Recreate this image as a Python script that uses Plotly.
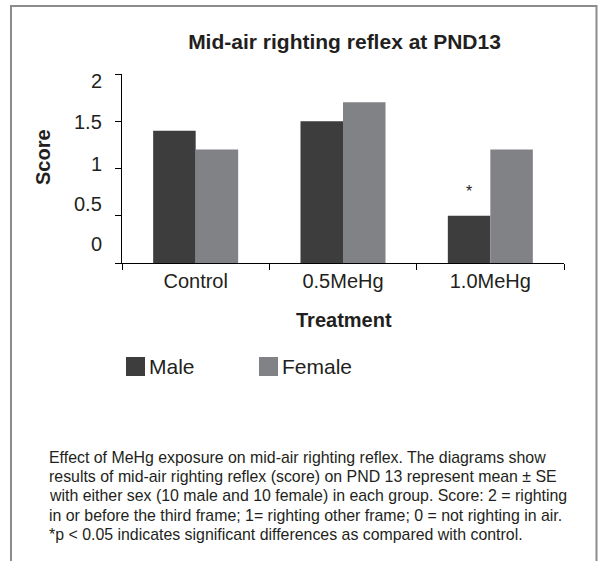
import plotly.graph_objects as go

# ---------------- data ----------------
categories = ["Control", "0.5MeHg", "1.0MeHg"]
male_scores = [1.4, 1.5, 0.5]
female_scores = [1.2, 1.7, 1.2]
significance_male = ["", "", "*"]
series_names = ["Male", "Female"]
y_tick_values = [0, 0.5, 1, 1.5, 2]
y_tick_labels = ["0", "0.5", "1", "1.5", "2"]

title_text = "Mid-air righting reflex at PND13"
x_title = "Treatment"
y_title = "Score"
caption_lines = [
    "Effect of MeHg exposure on mid-air righting reflex. The diagrams show",
    "results of mid-air righting reflex (score) on PND 13 represent mean ± SE",
    "with either sex (10 male and 10 female) in each group. Score: 2 = righting",
    "in or before the third frame; 1= righting other frame; 0 = not righting in air.",
    "*p < 0.05 indicates significant differences as compared with control.",
]

# ---------------- style ----------------
W, H = 598, 561
PL, PR, PT, PB = 122, 564, 74, 263          # plot area in pixels
MALE_COLOR = "#3d3d3d"
FEMALE_COLOR = "#818285"
TEXT_COLOR = "#231f20"
BORDER_COLOR = "#8c8c8c"
FONT = "Liberation Sans, Arial, Helvetica, sans-serif"
BARGAP = 0.423

# y pixel centres at which the reference prints its y tick labels
y_label_px = [244, 204, 164, 121.7, 80.7]
caption_px_y = [457.7, 477, 496, 515, 534]


def px_x(px):
    return (px - PL) / (PR - PL)


def px_y(py):
    return (PB - py) / (PB - PT)


fig = go.Figure()
fig.add_trace(go.Bar(x=categories, y=male_scores, name=series_names[0],
                     marker=dict(color=MALE_COLOR, line=dict(width=0)),
                     showlegend=False))
fig.add_trace(go.Bar(x=categories, y=female_scores, name=series_names[1],
                     marker=dict(color=FEMALE_COLOR, line=dict(width=0)),
                     showlegend=False))

annotations = []

# y tick labels (placed as printed in the reference)
for lab, py in zip(y_tick_labels, y_label_px):
    annotations.append(dict(text=lab, xref="paper", yref="paper",
                            x=px_x(104), y=px_y(py), xanchor="right",
                            yanchor="middle", showarrow=False,
                            font=dict(size=20, color=TEXT_COLOR, family=FONT)))

# significance marks above male bars
cat_w = (PR - PL) / len(categories)
male_offset = -(1 - BARGAP) * cat_w / 4
for cat, val, mark in zip(categories, male_scores, significance_male):
    if mark:
        annotations.append(dict(text=mark, x=cat, y=val, xref="x", yref="y",
                                xshift=male_offset, yshift=24, yanchor="middle",
                                showarrow=False,
                                font=dict(size=16, color=TEXT_COLOR, family=FONT)))

# axis titles
annotations.append(dict(text="<b>%s</b>" % y_title, xref="paper", yref="paper",
                        x=px_x(42.5), y=px_y(157.5), textangle=-90,
                        xanchor="center", yanchor="middle", showarrow=False,
                        font=dict(size=20, color=TEXT_COLOR, family=FONT)))
annotations.append(dict(text="<b>%s</b>" % x_title, xref="paper", yref="paper",
                        x=px_x(343.5), y=px_y(319.5), xanchor="center",
                        yanchor="middle", showarrow=False,
                        font=dict(size=20, color=TEXT_COLOR, family=FONT)))

# legend (manual, to match the reference's large swatches)
shapes = []
legend_items = [(series_names[0], MALE_COLOR, 126), (series_names[1], FEMALE_COLOR, 259)]
for name, col, x0 in legend_items:
    shapes.append(dict(type="rect", xref="paper", yref="paper",
                       x0=px_x(x0), x1=px_x(x0 + 19), y0=px_y(376), y1=px_y(357),
                       fillcolor=col, line=dict(width=0)))
    annotations.append(dict(text=name, xref="paper", yref="paper",
                            x=px_x(x0 + 21), y=px_y(366.5), xanchor="left",
                            yanchor="middle", showarrow=False,
                            font=dict(size=21, color=TEXT_COLOR, family=FONT)))

# caption
for line, py in zip(caption_lines, caption_px_y):
    annotations.append(dict(text=line, xref="paper", yref="paper",
                            x=px_x(47), y=px_y(py), xanchor="left",
                            yanchor="middle", showarrow=False,
                            font=dict(size=15.9, color=TEXT_COLOR, family=FONT)))

# outer frame
shapes.append(dict(type="rect", xref="paper", yref="paper",
                   x0=px_x(11), x1=px_x(596.5), y0=px_y(570), y1=px_y(6),
                   line=dict(color=BORDER_COLOR, width=2), fillcolor="rgba(0,0,0,0)"))

fig.update_layout(
    width=W, height=H,
    margin=dict(l=PL, r=W - PR, t=PT, b=H - PB, pad=0),
    paper_bgcolor="white", plot_bgcolor="white",
    barmode="group", bargap=BARGAP, bargroupgap=0,
    title=dict(text="<b>%s</b>" % title_text, x=px_x(344.5), xref="paper",
               y=1 - 41.5 / H, yref="container", xanchor="center", yanchor="middle",
               font=dict(size=21, color=TEXT_COLOR, family=FONT)),
    xaxis=dict(showline=True, linecolor="black", linewidth=1,
               ticks="outside", tickson="boundaries", ticklen=6, tickcolor="black",
               tickfont=dict(size=20, color=TEXT_COLOR, family=FONT),
               showgrid=False, zeroline=False),
    yaxis=dict(range=[0, 2], tickvals=y_tick_values, showticklabels=False,
               showline=True, linecolor="black", linewidth=1,
               ticks="outside", ticklen=6, tickcolor="black",
               showgrid=False, zeroline=False),
    annotations=annotations,
    shapes=shapes,
    showlegend=False,
)

fig.write_html("out.html",
               config={"displayModeBar": False},
               post_script="document.body.style.margin='0';document.body.style.overflow='hidden';")
